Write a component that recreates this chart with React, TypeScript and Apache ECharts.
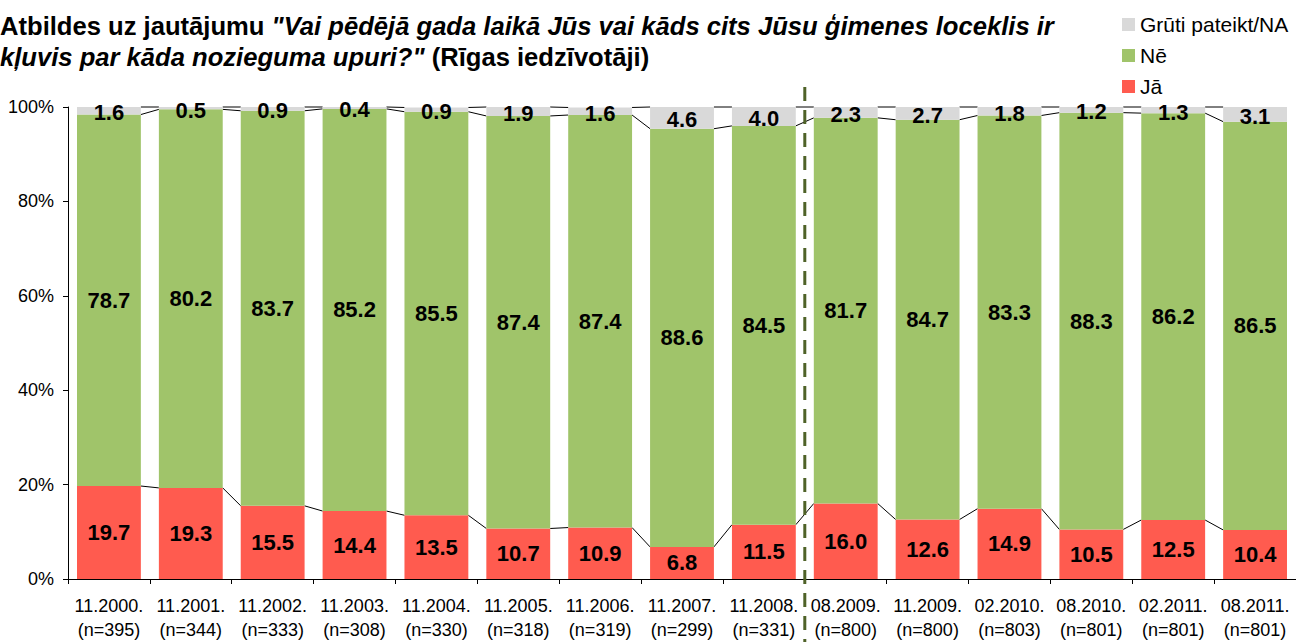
import React, { useEffect, useRef } from 'react';
import * as echarts from 'echarts';

const categories = [
  '11.2000.\n(n=395)', '11.2001.\n(n=344)', '11.2002.\n(n=333)', '11.2003.\n(n=308)',
  '11.2004.\n(n=330)', '11.2005.\n(n=318)', '11.2006.\n(n=319)', '11.2007.\n(n=299)',
  '11.2008.\n(n=331)', '08.2009.\n(n=800)', '11.2009.\n(n=800)', '02.2010.\n(n=803)',
  '08.2010.\n(n=801)', '02.2011.\n(n=801)', '08.2011.\n(n=801)',
];
const jaValues = [19.7, 19.3, 15.5, 14.4, 13.5, 10.7, 10.9, 6.8, 11.5, 16.0, 12.6, 14.9, 10.5, 12.5, 10.4];
const neValues = [78.7, 80.2, 83.7, 85.2, 85.5, 87.4, 87.4, 88.6, 84.5, 81.7, 84.7, 83.3, 88.3, 86.2, 86.5];
const naValues = [1.6, 0.5, 0.9, 0.4, 0.9, 1.9, 1.6, 4.6, 4.0, 2.3, 2.7, 1.8, 1.2, 1.3, 3.1];
const seriesNames = ['Jā', 'Nē', 'Grūti pateikt/NA'];
const legendOrder = ['Grūti pateikt/NA', 'Nē', 'Jā'];
const dividerAfterIndex = 8;

const FONT = 'Liberation Sans, Arial, sans-serif';
const BAR_GAP = 0.22;

export default function App() {
  const ref = useRef<HTMLDivElement>(null);

  useEffect(() => {
    if (!ref.current) return;
    const chart = echarts.init(ref.current, undefined, { renderer: 'svg' });

    const connectorData = [];
    for (let i = 0; i < categories.length - 1; i++) {
      connectorData.push([
        i,
        jaValues[i],
        jaValues[i] + neValues[i],
        Math.min(100, jaValues[i] + neValues[i] + naValues[i]),
        jaValues[i + 1],
        jaValues[i + 1] + neValues[i + 1],
        Math.min(100, jaValues[i + 1] + neValues[i + 1] + naValues[i + 1]),
      ]);
    }

    const labelStyle = {
      show: true,
      position: 'inside',
      color: '#000',
      fontSize: 22,
      fontWeight: 'bold',
      fontFamily: FONT,
      formatter: (p: any) => Number(p.value).toFixed(1),
    };

    chart.setOption({
      animation: false,
      backgroundColor: '#fff',
      textStyle: { fontFamily: FONT },
      title: {
        left: 0,
        top: 10,
        padding: 0,
        text:
          '{b|Atbildes uz jautājumu }{bi|"Vai pēdējā gada laikā Jūs vai kāds cits Jūsu ģimenes loceklis ir}\n{bi|kļuvis par kāda nozieguma upuri?"}{b| (Rīgas iedzīvotāji)}',
        textStyle: {
          rich: {
            b: { fontSize: 25.6, fontWeight: 'bold', fontFamily: FONT, color: '#000', lineHeight: 31 },
            bi: { fontSize: 25.6, fontWeight: 'bold', fontStyle: 'italic', fontFamily: FONT, color: '#000', lineHeight: 31 },
          },
        },
      },
      legend: {
        data: legendOrder,
        orient: 'vertical',
        left: 1122,
        top: 14,
        padding: 0,
        itemWidth: 13,
        itemHeight: 13,
        itemGap: 10,
        icon: 'rect',
        textStyle: { fontSize: 21, color: '#000', fontFamily: FONT },
      },
      grid: { left: 68, right: -4, top: 107, bottom: 62 },
      xAxis: {
        type: 'category',
        data: categories,
        axisLine: { lineStyle: { color: '#000', width: 1 } },
        axisTick: { show: true, length: 5, lineStyle: { color: '#000' } },
        axisLabel: { color: '#000', fontSize: 18, lineHeight: 24, margin: 15, interval: 0, fontFamily: FONT },
      },
      yAxis: {
        type: 'value',
        min: 0,
        max: 100,
        interval: 20,
        axisLine: { show: true, lineStyle: { color: '#000', width: 1 } },
        axisTick: { show: true, length: 5, lineStyle: { color: '#000' } },
        splitLine: { show: false },
        axisLabel: { color: '#000', fontSize: 18, margin: 14, formatter: '{value}%', fontFamily: FONT },
      },
      series: [
        {
          name: seriesNames[0], type: 'bar', stack: 'total', data: jaValues,
          barCategoryGap: `${BAR_GAP * 100}%`,
          itemStyle: { color: '#ff5b4f' }, label: labelStyle, z: 3,
        },
        {
          name: seriesNames[1], type: 'bar', stack: 'total', data: neValues,
          itemStyle: { color: '#a0c46a' }, label: labelStyle, z: 3,
        },
        {
          name: seriesNames[2], type: 'bar', stack: 'total', data: naValues,
          itemStyle: { color: '#d9d9d9' }, label: { ...labelStyle, offset: [0, 2] }, z: 3,
        },
        {
          name: 'connectors',
          type: 'custom',
          data: connectorData,
          encode: { x: 0, y: [1, 2, 3, 4, 5, 6] },
          z: 2,
          silent: true,
          renderItem: (params: any, api: any) => {
            const i = api.value(0);
            const band = api.size([1, 0])[0];
            const half = (band * (1 - BAR_GAP)) / 2;
            const children: any[] = [];
            for (let k = 0; k < 3; k++) {
              const a = api.coord([i, api.value(1 + k)]);
              const b = api.coord([i + 1, api.value(4 + k)]);
              children.push({
                type: 'line',
                shape: { x1: a[0] + half, y1: a[1], x2: b[0] - half, y2: b[1] },
                style: { stroke: '#000', lineWidth: 1 },
              });
            }
            if (i === dividerAfterIndex) {
              const x = api.coord([i, 0])[0] + band / 2;
              const top = api.coord([i, 100])[1] - 20;
              children.push({
                type: 'line',
                z2: 10,
                shape: { x1: x, y1: top, x2: x, y2: api.getHeight() },
                style: { stroke: '#4f6228', lineWidth: 3, lineDash: [14, 9] },
              });
            }
            return { type: 'group', children };
          },
        },
      ],
    });

    return () => chart.dispose();
  }, []);

  return (
    <div
      ref={ref}
      style={{ position: 'absolute', left: 0, top: 0, width: 1296, height: 642 }}
    />
  );
}
